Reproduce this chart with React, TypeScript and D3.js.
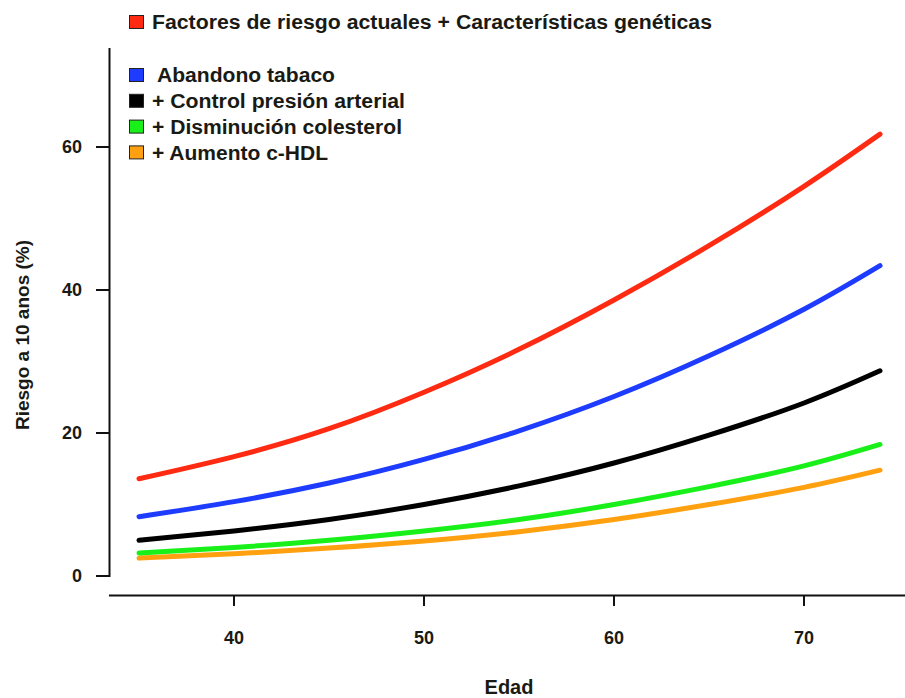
import React from "react";
import * as d3 from "d3";

const ages = [35, 40, 45, 50, 55, 60, 65, 70, 74];
const redValues = [13.6, 16.7, 20.6, 25.7, 31.7, 38.6, 46.2, 54.5, 61.8];
const blueValues = [8.3, 10.4, 13.0, 16.3, 20.3, 25.1, 30.8, 37.3, 43.4];
const blackValues = [5.0, 6.3, 7.9, 10.0, 12.6, 15.8, 19.7, 24.2, 28.7];
const greenValues = [3.2, 4.0, 5.0, 6.3, 7.9, 10.0, 12.5, 15.4, 18.4];
const orangeValues = [2.5, 3.1, 3.9, 4.9, 6.2, 7.9, 10.0, 12.4, 14.8];

const seriesNames = [
  "Factores de riesgo actuales + Características genéticas",
  "Abandono tabaco",
  "+ Control presión arterial",
  "+ Disminución colesterol",
  "+ Aumento c-HDL",
];
const seriesColors = ["#ff2a12", "#1e3cff", "#000000", "#19f019", "#ffa010"];
const xTicks = [40, 50, 60, 70];
const yTicks = [0, 20, 40, 60];

export default function App() {
  const W = 905, H = 698;
  const x = d3.scaleLinear().domain([40, 70]).range([234, 804]);
  const y = d3.scaleLinear().domain([0, 60]).range([576, 147]);
  const allSeries = [redValues, blueValues, blackValues, greenValues, orangeValues];
  const line = d3
    .line<number>()
    .x((_, i) => x(ages[i]))
    .y((d) => y(d))
    .curve(d3.curveNatural);
  const font = "'Liberation Sans', Arial, sans-serif";
  const textColor = "#1a1a14";
  const drawOrder = [4, 3, 2, 1, 0];
  const legendLen = [560, 178, 253, 250, 176];
  return (
    <svg width={W} height={H} style={{ position: "absolute", left: 0, top: 0, background: "#fff" }}>
      {/* axes */}
      <line x1={109.5} x2={109.5} y1={48} y2={577} stroke="#111" strokeWidth={2} />
      {yTicks.map((t) => (
        <g key={t}>
          <line x1={96} x2={109} y1={y(t)} y2={y(t)} stroke="#111" strokeWidth={2} />
          <text x={82} y={y(t)} dy="0.36em" textAnchor="end" fontFamily={font} fontWeight="bold" fontSize={18} fill={textColor}>
            {t}
          </text>
        </g>
      ))}
      <line x1={109} x2={905} y1={595.5} y2={595.5} stroke="#111" strokeWidth={2} />
      {xTicks.map((t) => (
        <g key={t}>
          <line x1={x(t)} x2={x(t)} y1={595} y2={606} stroke="#111" strokeWidth={2} />
          <text x={x(t)} y={638} dy="0.36em" textAnchor="middle" fontFamily={font} fontWeight="bold" fontSize={18} fill={textColor}>
            {t}
          </text>
        </g>
      ))}
      <text x={509} y={694} textAnchor="middle" fontFamily={font} fontWeight="bold" fontSize={20} fill={textColor}>
        Edad
      </text>
      <text
        transform="translate(22,335) rotate(-90)"
        dy="0.36em"
        textAnchor="middle"
        fontFamily={font}
        fontWeight="bold"
        fontSize={19}
        fill={textColor}
      >
        Riesgo a 10 anos (%)
      </text>
      {/* lines */}
      {drawOrder.map((i) => (
        <path
          key={i}
          d={line(allSeries[i]) || ""}
          fill="none"
          stroke={seriesColors[i]}
          strokeWidth={5}
          strokeLinecap="round"
        />
      ))}
      {/* legend */}
      {seriesNames.map((name, i) => {
        const cy = i === 0 ? 22 : 75 + (i - 1) * 25.8;
        const tx = i === 1 ? 157 : 152;
        return (
          <g key={name}>
            <rect x={129.5} y={cy - 6.5} width={14} height={13} fill={seriesColors[i]} stroke="#222" strokeWidth={1} />
            <text
              x={tx}
              y={cy}
              dy="0.36em"
              fontFamily={font}
              fontWeight="bold"
              fontSize={20}
              fill={textColor}
              textLength={legendLen[i]}
              lengthAdjust="spacingAndGlyphs"
            >
              {name}
            </text>
          </g>
        );
      })}
    </svg>
  );
}
